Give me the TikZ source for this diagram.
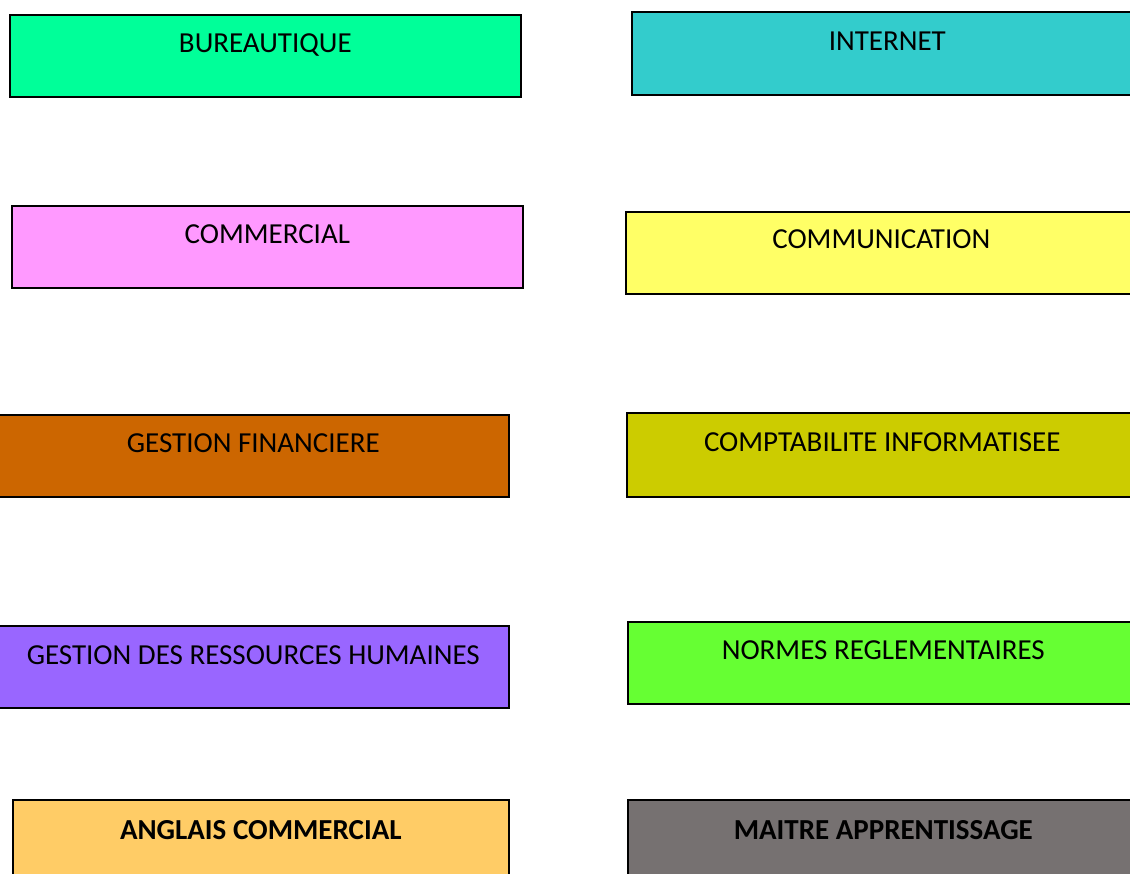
\documentclass[tikz,border=0pt]{standalone}
\usepackage{fontspec}
\setmainfont{Carlito}
\definecolor{cBur}{HTML}{00FF99}
\definecolor{cInt}{HTML}{33CCCC}
\definecolor{cCom}{HTML}{FF99FF}
\definecolor{cComm}{HTML}{FFFF66}
\definecolor{cGf}{HTML}{CC6600}
\definecolor{cCpt}{HTML}{CCCC00}
\definecolor{cGrh}{HTML}{9966FF}
\definecolor{cNor}{HTML}{66FF33}
\definecolor{cAng}{HTML}{FFCC66}
\definecolor{cMai}{HTML}{767171}
\tikzset{
  box/.style={draw=black, line width=1.6pt, rectangle, inner sep=0pt, anchor=north west},
  lbl/.style={anchor=base, inner sep=0pt, font=\fontsize{29}{34}\selectfont},
  blbl/.style={lbl, font=\fontsize{29}{34}\selectfont\bfseries}
}
\begin{document}
\begin{tikzpicture}[x=1pt,y=-1pt]
\useasboundingbox (0,0) rectangle (1130,874);
\clip (0,0) rectangle (1130,874);
% left column
\node[box, fill=cBur, minimum width=511pt, minimum height=82pt] (bur) at (9,14) {};
\node[lbl] (burt) at ([yshift=-39pt]bur.north) {BUREAUTIQUE};
\node[box, fill=cCom, minimum width=511pt, minimum height=82pt] (com) at (11,205) {};
\node[lbl] (comt) at ([yshift=-39pt]com.north) {COMMERCIAL};
\node[box, fill=cGf, minimum width=511pt, minimum height=82pt] (gf) at (-3,414) {};
\node[lbl] (gft) at ([yshift=-39pt]gf.north) {GESTION FINANCIERE};
\node[box, fill=cGrh, minimum width=511pt, minimum height=82pt] (grh) at (-3,625) {};
\node[lbl] (grht) at ([yshift=-39pt]grh.north) {GESTION DES RESSOURCES HUMAINES};
\node[box, fill=cAng, minimum width=496pt, minimum height=84pt] (ang) at (12,799) {};
\node[blbl] (angt) at ([yshift=-40pt]ang.north) {ANGLAIS COMMERCIAL};
% right column
\node[box, fill=cInt, minimum width=511pt, minimum height=83pt] (int) at (631,11) {};
\node[lbl] (intt) at ([yshift=-40pt]int.north) {INTERNET};
\node[box, fill=cComm, minimum width=511pt, minimum height=82pt] (comm) at (625,211) {};
\node[lbl] (commt) at ([yshift=-38pt]comm.north) {COMMUNICATION};
\node[box, fill=cCpt, minimum width=511pt, minimum height=84pt] (cpt) at (626,412) {};
\node[lbl] (cptt) at ([yshift=-39pt]cpt.north) {COMPTABILITE INFORMATISEE};
\node[box, fill=cNor, minimum width=511pt, minimum height=82pt] (nor) at (627,621) {};
\node[lbl] (nort) at ([yshift=-38pt]nor.north) {NORMES REGLEMENTAIRES};
\node[box, fill=cMai, minimum width=511pt, minimum height=84pt] (mai) at (627,799) {};
\node[blbl] (mait) at ([yshift=-40pt]mai.north) {MAITRE APPRENTISSAGE};
\end{tikzpicture}
\end{document}
